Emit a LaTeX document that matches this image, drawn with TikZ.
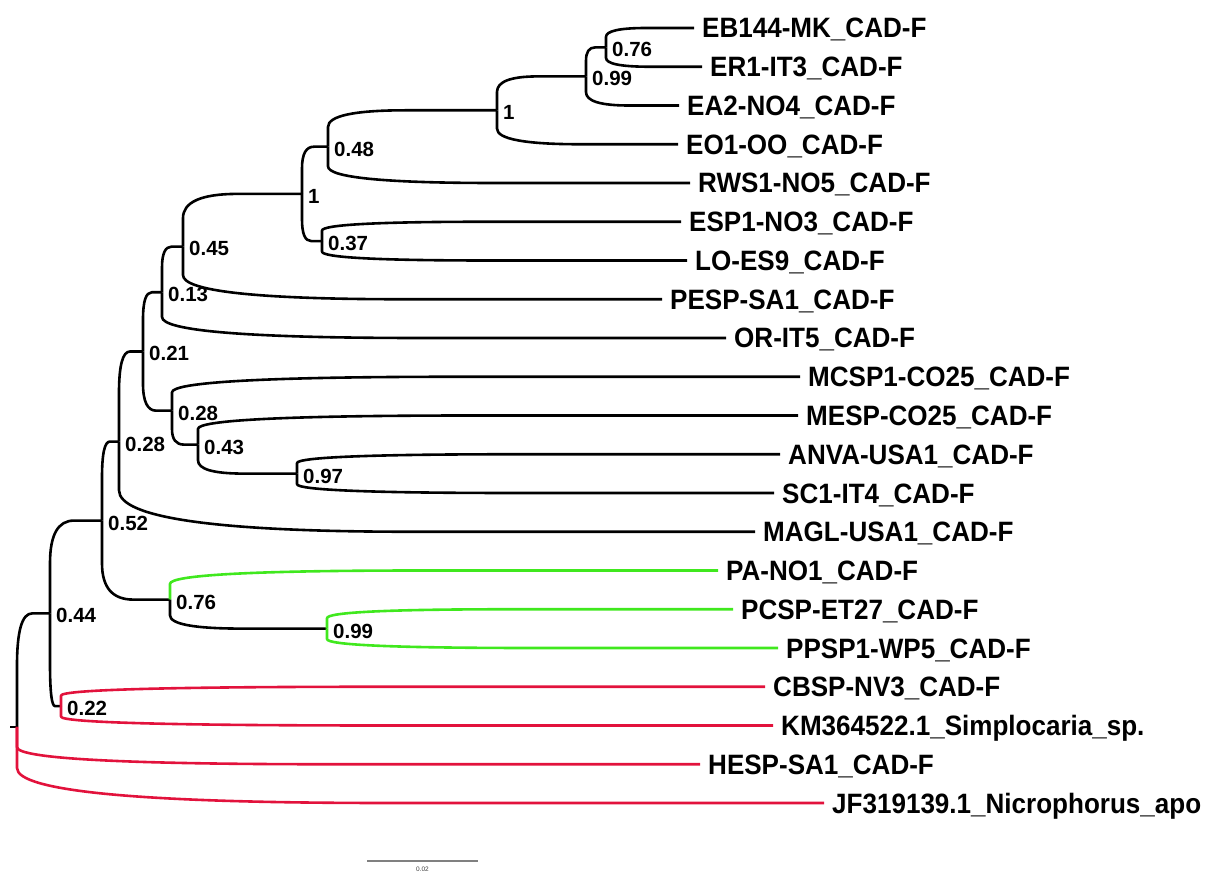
\documentclass[tikz,border=0pt]{standalone}
\usepackage{fontspec}
\setmainfont{Liberation Sans}
\newfontfamily\tipfont{Liberation Sans}[FakeStretch=0.93]
\usetikzlibrary{calc}
\definecolor{brgreen}{RGB}{64,232,30}
\definecolor{brred}{RGB}{226,18,60}
\newcommand\curv{0.46}
\newcommand\br[3][]{\draw[branch,#1] let \p1=(#2), \p2=(#3) in
  (\p1) -- (\x1,{\y1+(1-\curv)*(\y2-\y1)})
  .. controls (\x1,{\y1+(1-\curv/3)*(\y2-\y1)}) and ({\x1+\curv*(\x2-\x1)/3},\y2)
  .. ({\x1+\curv*(\x2-\x1)},\y2) -- (\p2);}
\tikzset{
  branch/.style={line width=2.6pt, line cap=butt, line join=round, black},
  gbr/.style={brgreen},
  rbr/.style={brred},
  tiplab/.style={anchor=base west, inner sep=0pt, xshift=8pt, yshift=-10pt,
    font=\tipfont\fontsize{28}{32}\selectfont\bfseries},
  bslab/.style={anchor=base west, inner sep=0pt, xshift=6pt, yshift=-9.4pt,
    font=\fontsize{20.5}{24}\selectfont\bfseries},
  scalebar/.style={line width=1.4pt, black!50}
}
\begin{document}
\begin{tikzpicture}[x=1pt,y=-1pt]
\useasboundingbox (0,0) rectangle (1213,874);
% internal nodes
\coordinate (root) at (17,726.9);
\coordinate (A) at (50,613.4);
\coordinate (B) at (102,520.6);
\coordinate (C) at (61,706.1);
\coordinate (D) at (119,441.6);
\coordinate (E) at (170,599.6);
\coordinate (F) at (327,628.6);
\coordinate (P) at (143,351.5);
\coordinate (L) at (162,292.3);
\coordinate (K) at (183,246.6);
\coordinate (I) at (302,193.9);
\coordinate (H) at (328,146.7);
\coordinate (G) at (497,110.3);
\coordinate (M) at (586,76.4);
\coordinate (N) at (606,47.4);
\coordinate (J) at (322,241.1);
\coordinate (Q) at (172,410.7);
\coordinate (S) at (198,444.6);
\coordinate (T) at (297,473.6);
\coordinate (stub) at (10,726.9);
% tips (line ends)
\coordinate (t0) at (694,28);
\coordinate (t1) at (702,66.75);
\coordinate (t2) at (679,105.5);
\coordinate (t3) at (678,144.25);
\coordinate (t4) at (690,183);
\coordinate (t5) at (681,221.75);
\coordinate (t6) at (687,260.5);
\coordinate (t7) at (662,299.25);
\coordinate (t8) at (726,338);
\coordinate (t9) at (800,376.75);
\coordinate (t10) at (798,415.5);
\coordinate (t11) at (780,454.25);
\coordinate (t12) at (774,493);
\coordinate (t13) at (755,531.75);
\coordinate (t14) at (718,570.5);
\coordinate (t15) at (733,609.25);
\coordinate (t16) at (778,648);
\coordinate (t17) at (765,686.75);
\coordinate (t18) at (773,725.5);
\coordinate (t19) at (700,764.25);
\coordinate (t20) at (824,803);
% branches
\draw[branch] (stub) -- (root);
\br{root}{A}
\br[rbr]{root}{t19}
\br[rbr]{root}{t20}
\br{A}{B}
\br{A}{C}
\br[rbr]{C}{t17}
\br[rbr]{C}{t18}
\br{B}{D}
\br{B}{E}
\br[gbr]{E}{t14}
\br{E}{F}
\br[gbr]{F}{t15}
\br[gbr]{F}{t16}
\br{D}{P}
\br{D}{t13}
\br{P}{L}
\br{P}{Q}
\br{L}{K}
\br{L}{t8}
\br{K}{I}
\br{K}{t7}
\br{I}{H}
\br{I}{J}
\br{H}{G}
\br{H}{t4}
\br{G}{M}
\br{G}{t3}
\br{M}{N}
\br{M}{t2}
\br{N}{t0}
\br{N}{t1}
\br{J}{t5}
\br{J}{t6}
\br{Q}{t9}
\br{Q}{S}
\br{S}{t10}
\br{S}{T}
\br{T}{t11}
\br{T}{t12}
% tip labels
\node[tiplab] (l0) at (t0) {EB144-MK\_CAD-F};
\node[tiplab] (l1) at (t1) {ER1-IT3\_CAD-F};
\node[tiplab] (l2) at (t2) {EA2-NO4\_CAD-F};
\node[tiplab] (l3) at (t3) {EO1-OO\_CAD-F};
\node[tiplab] (l4) at (t4) {RWS1-NO5\_CAD-F};
\node[tiplab] (l5) at (t5) {ESP1-NO3\_CAD-F};
\node[tiplab] (l6) at (t6) {LO-ES9\_CAD-F};
\node[tiplab] (l7) at (t7) {PESP-SA1\_CAD-F};
\node[tiplab] (l8) at (t8) {OR-IT5\_CAD-F};
\node[tiplab] (l9) at (t9) {MCSP1-CO25\_CAD-F};
\node[tiplab] (l10) at (t10) {MESP-CO25\_CAD-F};
\node[tiplab] (l11) at (t11) {ANVA-USA1\_CAD-F};
\node[tiplab] (l12) at (t12) {SC1-IT4\_CAD-F};
\node[tiplab] (l13) at (t13) {MAGL-USA1\_CAD-F};
\node[tiplab] (l14) at (t14) {PA-NO1\_CAD-F};
\node[tiplab] (l15) at (t15) {PCSP-ET27\_CAD-F};
\node[tiplab] (l16) at (t16) {PPSP1-WP5\_CAD-F};
\node[tiplab] (l17) at (t17) {CBSP-NV3\_CAD-F};
\node[tiplab] (l18) at (t18) {KM364522.1\_Simplocaria\_sp.};
\node[tiplab] (l19) at (t19) {HESP-SA1\_CAD-F};
\node[tiplab] (l20) at (t20) {JF319139.1\_Nicrophorus\_apo};
% support values
\node[bslab] (bN) at (N) {0.76};
\node[bslab] (bM) at (M) {0.99};
\node[bslab] (bG) at (G) {1};
\node[bslab] (bH) at (H) {0.48};
\node[bslab] (bI) at (I) {1};
\node[bslab] (bJ) at (J) {0.37};
\node[bslab] (bK) at (K) {0.45};
\node[bslab] (bL) at (L) {0.13};
\node[bslab] (bP) at (P) {0.21};
\node[bslab] (bQ) at (Q) {0.28};
\node[bslab] (bS) at (S) {0.43};
\node[bslab] (bT) at (T) {0.97};
\node[bslab] (bD) at (D) {0.28};
\node[bslab] (bB) at (B) {0.52};
\node[bslab] (bE) at (E) {0.76};
\node[bslab] (bF) at (F) {0.99};
\node[bslab] (bA) at (A) {0.44};
\node[bslab] (bC) at (C) {0.22};
% scale bar
\coordinate (sb1) at (367,861);
\coordinate (sb2) at (478,861);
\draw[scalebar] (sb1) -- (sb2);
\node[inner sep=0pt, font=\fontsize{6.5}{7}\selectfont, text=black!75] (sbl) at (422.5,869.5) {0.02};
\end{tikzpicture}
\end{document}
